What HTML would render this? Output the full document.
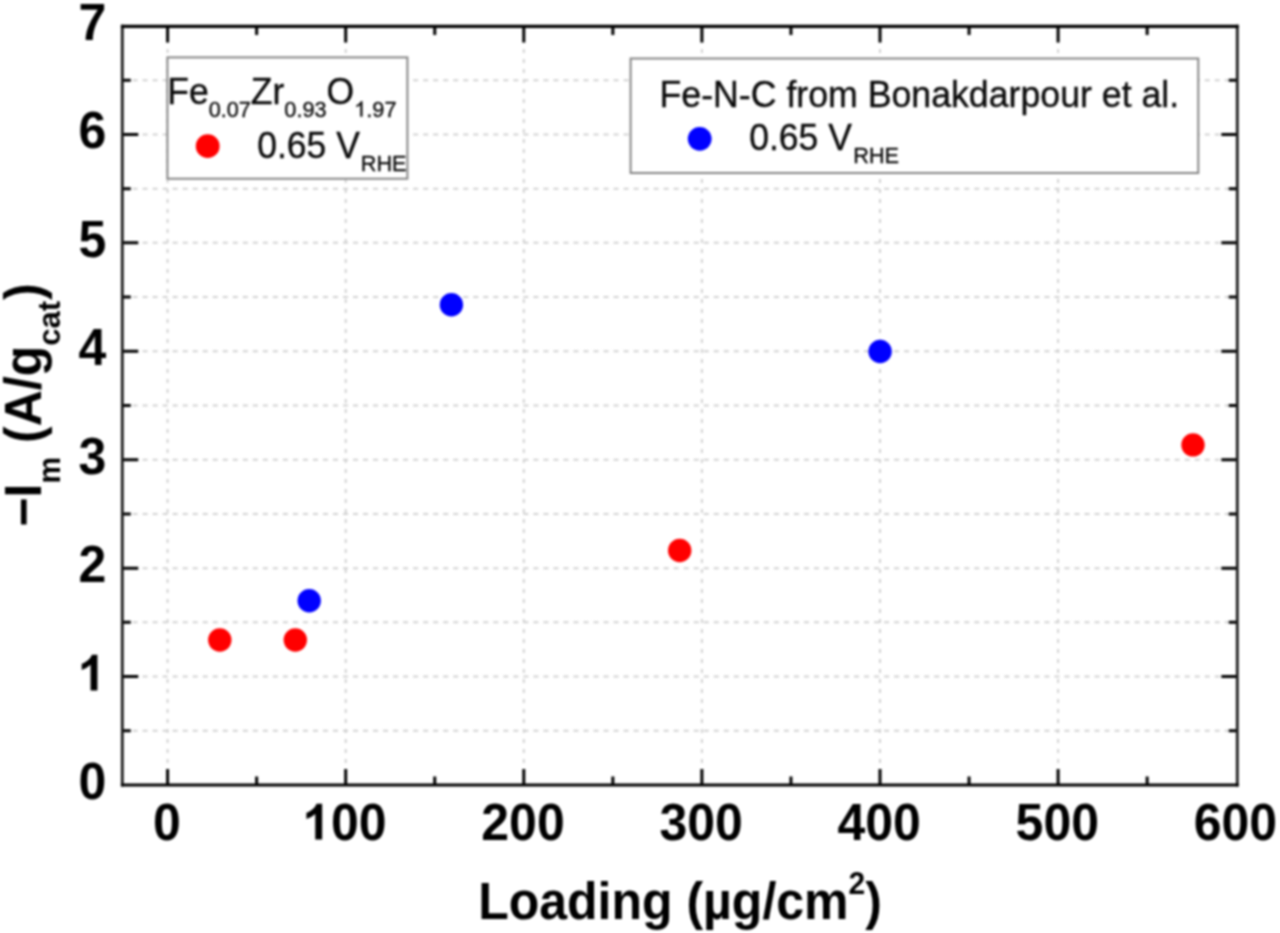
<!DOCTYPE html>
<html><head><meta charset="utf-8"><title>Loading chart</title>
<style>html,body{margin:0;padding:0;background:#fff;width:1280px;height:933px;overflow:hidden}svg{display:block;filter:blur(1px)}text{font-family:"Liberation Sans",sans-serif}</style>
</head><body><svg width="1280" height="933" viewBox="0 0 1280 933"><g stroke="#d2d2d2" stroke-width="2" stroke-dasharray="5.01 5.01" stroke-dashoffset="9.75"><line x1="122.3" y1="730.78" x2="1237.3" y2="730.78"/><line x1="122.3" y1="676.57" x2="1237.3" y2="676.57"/><line x1="122.3" y1="622.36" x2="1237.3" y2="622.36"/><line x1="122.3" y1="568.14" x2="1237.3" y2="568.14"/><line x1="122.3" y1="513.92" x2="1237.3" y2="513.92"/><line x1="122.3" y1="459.71" x2="1237.3" y2="459.71"/><line x1="122.3" y1="405.50" x2="1237.3" y2="405.50"/><line x1="122.3" y1="351.28" x2="1237.3" y2="351.28"/><line x1="122.3" y1="297.06" x2="1237.3" y2="297.06"/><line x1="122.3" y1="242.85" x2="1237.3" y2="242.85"/><line x1="122.3" y1="188.63" x2="1237.3" y2="188.63"/><line x1="122.3" y1="134.42" x2="1237.3" y2="134.42"/><line x1="122.3" y1="80.20" x2="1237.3" y2="80.20"/></g><g stroke="#d2d2d2" stroke-width="2" stroke-dasharray="4 6" stroke-dashoffset="7.4"><line x1="167.60" y1="26.4" x2="167.60" y2="785.0"/><line x1="345.70" y1="26.4" x2="345.70" y2="785.0"/><line x1="523.80" y1="26.4" x2="523.80" y2="785.0"/><line x1="701.90" y1="26.4" x2="701.90" y2="785.0"/><line x1="880.00" y1="26.4" x2="880.00" y2="785.0"/><line x1="1058.10" y1="26.4" x2="1058.10" y2="785.0"/></g><path d="M167.60 785.0v-16M167.60 26.4v16M345.70 785.0v-16M345.70 26.4v16M523.80 785.0v-16M523.80 26.4v16M701.90 785.0v-16M701.90 26.4v16M880.00 785.0v-16M880.00 26.4v16M1058.10 785.0v-16M1058.10 26.4v16M256.65 785.0v-8.5M256.65 26.4v8.5M434.75 785.0v-8.5M434.75 26.4v8.5M612.85 785.0v-8.5M612.85 26.4v8.5M790.95 785.0v-8.5M790.95 26.4v8.5M969.05 785.0v-8.5M969.05 26.4v8.5M1147.15 785.0v-8.5M1147.15 26.4v8.5M122.3 676.57h16M1237.3 676.57h-16M122.3 568.14h16M1237.3 568.14h-16M122.3 459.71h16M1237.3 459.71h-16M122.3 351.28h16M1237.3 351.28h-16M122.3 242.85h16M1237.3 242.85h-16M122.3 134.42h16M1237.3 134.42h-16M122.3 730.78h8.5M1237.3 730.78h-8.5M122.3 622.36h8.5M1237.3 622.36h-8.5M122.3 513.92h8.5M1237.3 513.92h-8.5M122.3 405.50h8.5M1237.3 405.50h-8.5M122.3 297.06h8.5M1237.3 297.06h-8.5M122.3 188.63h8.5M1237.3 188.63h-8.5M122.3 80.20h8.5M1237.3 80.20h-8.5" stroke="#000" stroke-width="3" fill="none"/><rect x="167.4" y="57.4" width="240" height="121.3" fill="#fff" stroke="#858585" stroke-width="2"/><rect x="630.6" y="58.5" width="567.7" height="114.5" fill="#fff" stroke="#858585" stroke-width="2"/><path d="M122.3 24.799999999999997V786.6M1237.3 24.799999999999997V786.6" stroke="#1c1c1c" stroke-width="2.8" fill="none"/><path d="M120.89999999999999 26.4H1238.7M120.89999999999999 785.0H1238.7" stroke="#000" stroke-width="3.2" fill="none"/><circle cx="219.8" cy="640" r="11.7" fill="#ff0000"/><circle cx="295.3" cy="640" r="11.7" fill="#ff0000"/><circle cx="679.7" cy="550.5" r="11.7" fill="#ff0000"/><circle cx="1193" cy="444.9" r="11.7" fill="#ff0000"/><circle cx="309.2" cy="600.8" r="11.7" fill="#0000ff"/><circle cx="451.4" cy="304.8" r="11.7" fill="#0000ff"/><circle cx="880.1" cy="351.5" r="11.7" fill="#0000ff"/><circle cx="207.7" cy="146.2" r="11.9" fill="#ff0000"/><circle cx="699.7" cy="138.8" r="11.9" fill="#0000ff"/><g font-family="Liberation Sans" font-weight="bold" font-size="50.0" fill="#000"><text transform="translate(152.90,839.6) scale(1,1.04)">0</text><path transform="translate(303.19,839.60) scale(0.02441,-0.02539)" d="M776 0H495V1013Q341 875 132 809V1053Q242 1087 372 1184Q502 1281 550 1409H776Z" fill="#000" stroke="none"/><text transform="translate(331.00,839.6) scale(1,1.04)">00</text><text transform="translate(481.29,839.6) scale(1,1.04)">200</text><text transform="translate(659.39,839.6) scale(1,1.04)">300</text><text transform="translate(837.49,839.6) scale(1,1.04)">400</text><text transform="translate(1015.59,839.6) scale(1,1.04)">500</text><text transform="translate(1193.69,839.6) scale(1,1.04)">600</text><text transform="translate(78.49,798.90) scale(1,1.04)">0</text><path transform="translate(78.49,690.47) scale(0.02441,-0.02539)" d="M776 0H495V1013Q341 875 132 809V1053Q242 1087 372 1184Q502 1281 550 1409H776Z" fill="#000" stroke="none"/><text transform="translate(78.49,582.04) scale(1,1.04)">2</text><text transform="translate(78.49,473.61) scale(1,1.04)">3</text><text transform="translate(78.49,365.18) scale(1,1.04)">4</text><text transform="translate(78.49,256.75) scale(1,1.04)">5</text><text transform="translate(78.49,148.32) scale(1,1.04)">6</text><text transform="translate(78.49,39.89) scale(1,1.04)">7</text></g><text transform="translate(680,918.7) scale(1,1.04)" text-anchor="middle" font-family="Liberation Sans" font-weight="bold" font-size="50">Loading (µg/cm<tspan font-size="30" dy="-23.4">2</tspan><tspan dy="23.4">)</tspan></text><text transform="translate(41.2,405) rotate(-90) scale(1,1.04)" text-anchor="middle" font-family="Liberation Sans" font-weight="bold" font-size="50">−I<tspan font-size="30" dy="18.5">m</tspan><tspan dy="-18.5"> (A/g</tspan><tspan font-size="31" dy="18.5">cat</tspan><tspan dy="-18.5" dx="1">)</tspan></text><g font-family="Liberation Sans" font-size="35.5" fill="#0a0a0a" stroke="#0a0a0a" stroke-width="0.35"><text transform="translate(167.20,103.50) scale(1,1.02)">Fe<tspan font-size="21.7" dy="12.84">0.07</tspan><tspan dy="-12.84">Zr</tspan><tspan font-size="21.7" dy="12.84">0.93</tspan><tspan dy="-12.84">O</tspan></text><path transform="translate(354.22,116.60) scale(0.01060,-0.01081)" d="M763 0H583V1098Q518 1038 412 979Q306 920 222 890V1057Q373 1124 486 1221Q599 1318 646 1409H763Z" fill="#0a0a0a" stroke="#0a0a0a" stroke-width="33.0"/><text transform="translate(366.29,116.60) scale(1,1.02)" font-size="21.7">.97</text><text transform="translate(257.20,157.70) scale(1,1.02)">0.65 V<tspan font-size="21.7" dy="12.84" dx="1">RHE</tspan></text><text transform="translate(659.50,107.00) scale(1,1.02)" font-size="35.7">Fe-N-C from Bonakdarpour et al.</text><text transform="translate(749.20,150.00) scale(1,1.02)">0.65 V<tspan font-size="21.7" dy="12.84" dx="1.5">RHE</tspan></text></g></svg></body></html>
